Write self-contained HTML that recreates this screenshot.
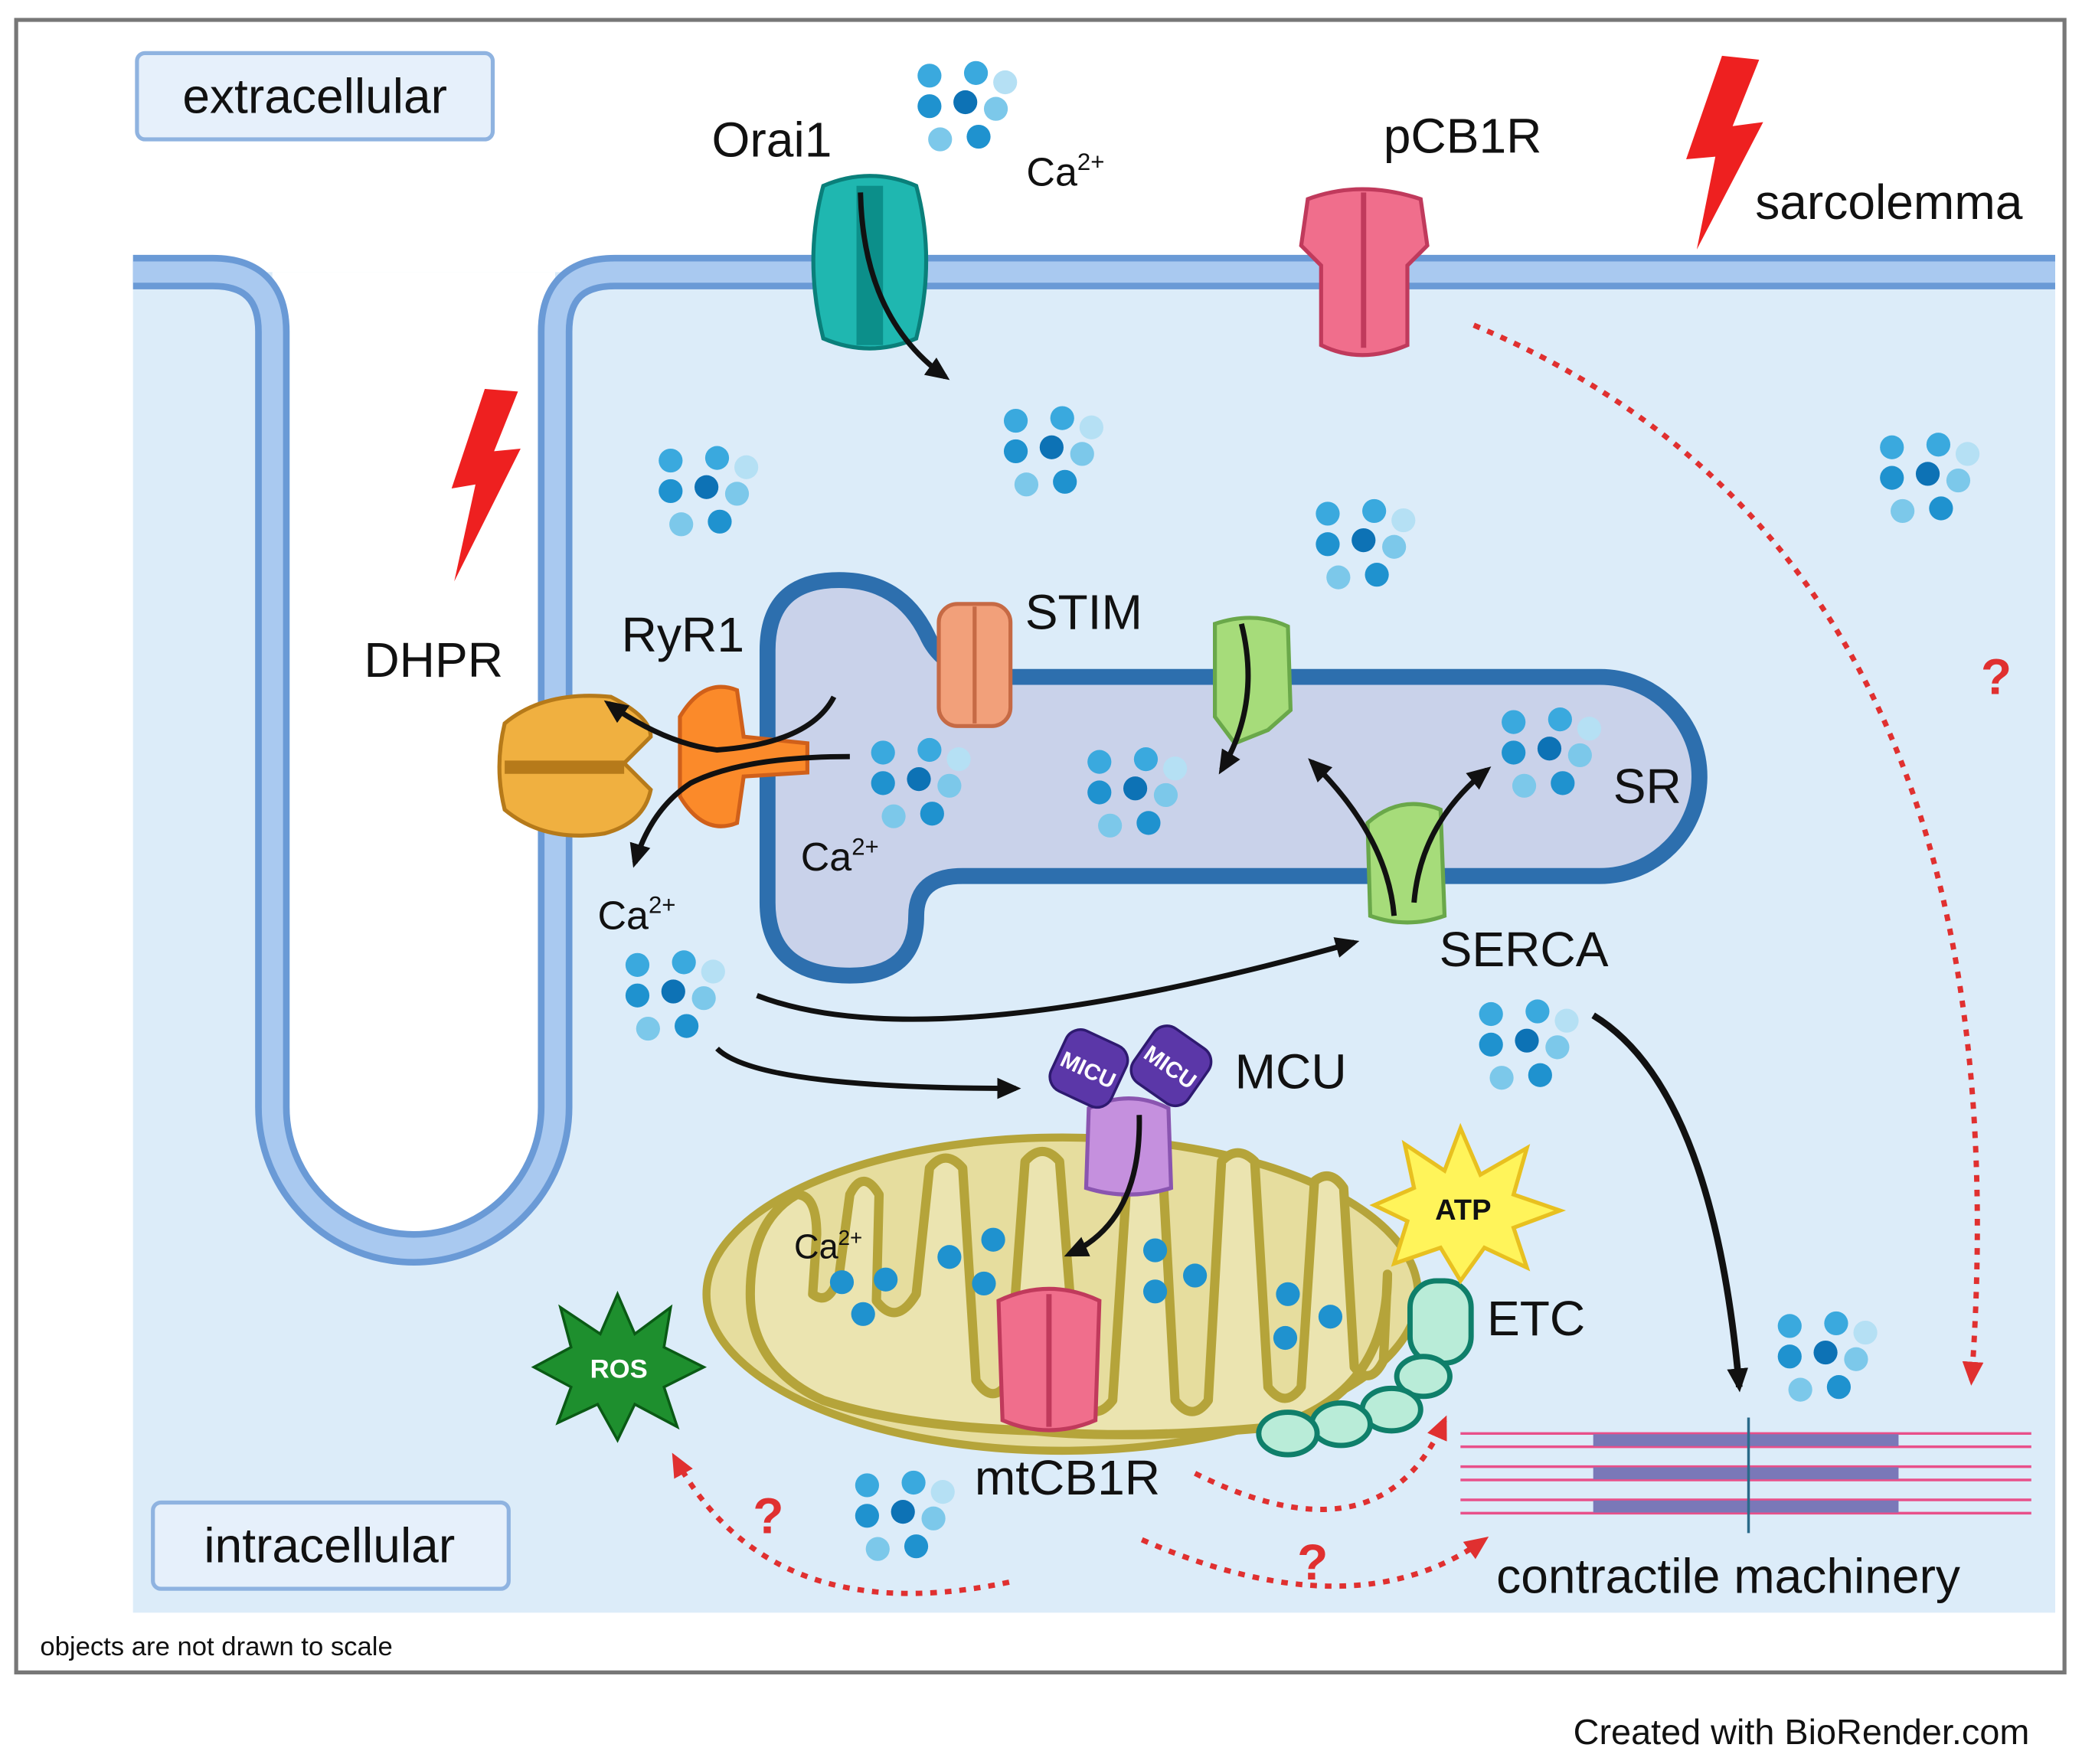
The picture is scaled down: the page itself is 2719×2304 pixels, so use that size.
<!DOCTYPE html>
<html><head><meta charset="utf-8"><style>
html,body{margin:0;padding:0;background:#fff;}
svg{display:block;}
text{font-family:"Liberation Sans",sans-serif;fill:#111;}
</style></head><body>
<svg width="2719" height="2304" viewBox="0 0 1568 1329" xmlns="http://www.w3.org/2000/svg">
<defs>
<g id="ca">
<circle cx="-25" cy="-23" r="9" fill="#3aa9de"/><circle cx="10" cy="-25" r="9" fill="#3aa9de"/><circle cx="32" cy="-18" r="9" fill="#b5e0f4"/>
<circle cx="-25" cy="0" r="9" fill="#1f92cf"/><circle cx="2" cy="-3" r="9" fill="#0d72b5"/><circle cx="25" cy="2" r="9" fill="#7cc8ea"/>
<circle cx="-17" cy="25" r="9" fill="#7cc8ea"/><circle cx="12" cy="23" r="9" fill="#1f92cf"/>
</g>
<marker id="ahb" markerWidth="20" markerHeight="20" refX="14" refY="10" orient="auto" markerUnits="userSpaceOnUse"><path d="M0,2 L18,10 L0,18 Z" fill="#111"/></marker>
<marker id="ahr" markerWidth="20" markerHeight="20" refX="14" refY="10" orient="auto" markerUnits="userSpaceOnUse"><path d="M0,2 L18,10 L0,18 Z" fill="#e03030"/></marker>
</defs>
<rect x="12" y="15" width="1543" height="1245" fill="#fff" stroke="#777" stroke-width="3"/>
<rect x="100" y="205" width="1448" height="1010" fill="#dcecf9"/>
<path d="M205,205 V834 A106.5 106.5 0 0 0 418 834 V205 Z" fill="#fff"/>
<path d="M100,205 H160 Q205,205 205,250 V834 A106.5 106.5 0 0 0 418 834 V250 Q418,205 463,205 H1548" fill="none" stroke="#6a9ad6" stroke-width="26"/>
<path d="M100,205 H160 Q205,205 205,250 V834 A106.5 106.5 0 0 0 418 834 V250 Q418,205 463,205 H1548" fill="none" stroke="#a9c9f0" stroke-width="16"/>
<path d="M578,490 Q578,437 632,437 Q678,437 698,478 Q712,510 760,510 H1205 A75 75 0 0 1 1205 660 H725 Q690,660 690,690 Q690,735 640,735 Q578,735 578,680 Z" fill="#c9d2ea" stroke="#2d6fae" stroke-width="12"/>
<ellipse cx="800" cy="975" rx="268" ry="118" fill="#e6dd9e" stroke="#b5a43a" stroke-width="6"/>
<path d="M565,975 Q565,920 600,900 Q615,900 615,930 L612,975 Q625,985 632,960 L640,900 Q650,880 662,900 L660,980 Q675,1000 690,975 L700,880 Q712,865 725,880 L735,1040 Q748,1060 760,1040 L772,875 Q785,860 798,875 L812,1055 Q825,1072 838,1055 L850,870 Q862,855 875,870 L885,1055 Q898,1072 910,1055 L920,875 Q932,862 945,875 L955,1045 Q968,1062 980,1045 L990,890 Q1002,880 1012,895 L1020,1030 Q1032,1045 1042,1025 L1045,960 Q1045,1050 960,1075 Q850,1085 780,1078 Q680,1075 620,1055 Q565,1030 565,975 Z" fill="#ebe4b0" stroke="#b5a43a" stroke-width="7" stroke-linejoin="round"/>
<use href="#ca" x="725" y="80"/><use href="#ca" x="530" y="370"/><use href="#ca" x="790" y="340"/>
<use href="#ca" x="1025" y="410"/><use href="#ca" x="1450" y="360"/><use href="#ca" x="690" y="590"/>
<use href="#ca" x="853" y="597"/><use href="#ca" x="1165" y="567"/><use href="#ca" x="505" y="750"/>
<use href="#ca" x="1148" y="787"/><use href="#ca" x="1373" y="1022"/><use href="#ca" x="678" y="1142"/>
<g fill="#1f92cf"><circle cx="634" cy="966" r="9"/><circle cx="667" cy="964" r="9"/><circle cx="650" cy="990" r="9"/><circle cx="715" cy="947" r="9"/><circle cx="748" cy="934" r="9"/><circle cx="741" cy="967" r="9"/><circle cx="870" cy="942" r="9"/><circle cx="870" cy="973" r="9"/><circle cx="900" cy="961" r="9"/><circle cx="970" cy="975" r="9"/><circle cx="1002" cy="992" r="9"/><circle cx="968" cy="1008" r="9"/></g>
<g stroke="#e8508a" stroke-width="2" fill="none">
<path d="M1100,1080 H1530 M1100,1090 H1530 M1100,1105 H1530 M1100,1115 H1530 M1100,1130 H1530 M1100,1140 H1530"/>
</g>
<g stroke="#7a78b8" stroke-width="9"><path d="M1200,1085 H1430 M1200,1110 H1430 M1200,1135 H1430"/></g>
<line x1="1317" y1="1068" x2="1317" y2="1155" stroke="#2a6a8a" stroke-width="2"/>
<path d="M620,140 Q655,125 690,140 Q705,195 690,255 Q655,270 620,255 Q605,195 620,140Z" fill="#1fb7b0" stroke="#0a7f7a" stroke-width="3"/>
<rect x="645" y="140" width="20" height="120" fill="#0c8f8a"/>
<path d="M985,150 Q1025,135 1070,150 L1075,185 L1060,200 L1060,260 Q1025,275 995,260 L995,200 L980,185Z" fill="#f06e8c" stroke="#c03a5c" stroke-width="3"/>
<line x1="1027" y1="145" x2="1027" y2="262" stroke="#c03a5c" stroke-width="4"/>
<rect x="707" y="455" width="54" height="92" rx="14" fill="#f2a07a" stroke="#c66a45" stroke-width="3"/>
<line x1="734" y1="457" x2="734" y2="545" stroke="#c66a45" stroke-width="3"/>
<path d="M380,545 Q410,520 460,525 Q490,540 490,555 L470,575 L490,595 Q485,620 455,628 Q410,635 380,610 Q372,578 380,545Z" fill="#f0b040" stroke="#b67a1a" stroke-width="3"/>
<path d="M380,578 H470" stroke="#b67a1a" stroke-width="10"/>
<path d="M512,540 Q530,510 555,520 L560,555 L608,560 L608,582 L560,585 L555,620 Q530,630 512,600 Z" fill="#fb8a2a" stroke="#d0601a" stroke-width="3"/>
<path d="M915,470 Q945,460 970,472 L972,535 L955,550 L930,560 L915,540Z" fill="#a6dc7a" stroke="#6aa84a" stroke-width="3"/>
<path d="M1030,620 Q1055,598 1085,610 L1088,690 Q1060,700 1032,690Z" fill="#a6dc7a" stroke="#6aa84a" stroke-width="3"/>
<path d="M820,835 Q850,820 880,835 L882,895 Q850,905 818,895Z" fill="#c590de" stroke="#8a55b0" stroke-width="3"/>
<g transform="rotate(25 820 805)"><rect x="795" y="780" width="50" height="50" rx="12" fill="#5b37a8" stroke="#2e1a70" stroke-width="2"/><text x="820" y="812" font-size="17" text-anchor="middle" style="fill:#fff" font-weight="bold">MICU</text></g>
<g transform="rotate(35 882 803)"><rect x="857" y="778" width="50" height="50" rx="12" fill="#5b37a8" stroke="#2e1a70" stroke-width="2"/><text x="882" y="810" font-size="17" text-anchor="middle" style="fill:#fff" font-weight="bold">MICU</text></g>
<path d="M752,980 Q790,962 828,980 L825,1070 Q790,1085 755,1070Z" fill="#f06e8c" stroke="#c03a5c" stroke-width="3"/>
<line x1="790" y1="975" x2="790" y2="1075" stroke="#c03a5c" stroke-width="4"/>
<g fill="#b9ecd8" stroke="#0f7f6a" stroke-width="4">
<rect x="1062" y="965" width="46" height="62" rx="20"/><ellipse cx="1072" cy="1037" rx="20" ry="15"/><ellipse cx="1048" cy="1062" rx="22" ry="16"/><ellipse cx="1010" cy="1073" rx="22" ry="16"/><ellipse cx="970" cy="1080" rx="22" ry="16"/></g>
<path d="M1100,850 L1115,885 L1150,865 L1140,900 L1175,912 L1140,925 L1150,955 L1118,940 L1100,965 L1085,940 L1050,952 L1060,920 L1035,908 L1065,895 L1058,862 L1088,882Z" fill="#fff45a" stroke="#e8c020" stroke-width="3"/>
<text x="1102" y="919" font-size="22" font-weight="bold" text-anchor="middle">ATP</text>
<path d="M465,975 L478,1005 L505,985 L500,1015 L530,1030 L500,1045 L510,1075 L478,1058 L465,1085 L450,1058 L420,1072 L430,1045 L402,1030 L430,1015 L422,985 L452,1005Z" fill="#1e8f2e" stroke="#0a5a15" stroke-width="2"/>
<text x="466" y="1038" font-size="20" font-weight="bold" text-anchor="middle" style="fill:#fff">ROS</text>
<path d="M1297,42 L1325,45 L1305,95 L1328,92 L1278,188 L1292,118 L1270,120Z" fill="#ee2020"/>
<path d="M365,293 L390,295 L372,340 L392,338 L342,438 L358,365 L340,368Z" fill="#ee2020"/>
<g fill="none" stroke="#111" stroke-width="4">
<path d="M648,145 Q650,240 712,284" marker-end="url(#ahb)"/>
<path d="M628,525 Q610,560 540,565 Q500,560 458,530" marker-end="url(#ahb)"/>
<path d="M640,570 Q560,570 520,590 Q490,610 478,650" marker-end="url(#ahb)"/>
<path d="M935,470 Q950,530 920,580" marker-end="url(#ahb)"/>
<path d="M1050,690 Q1045,630 988,574" marker-end="url(#ahb)"/>
<path d="M1065,680 Q1070,620 1120,580" marker-end="url(#ahb)"/>
<path d="M570,750 Q700,800 1020,710" marker-end="url(#ahb)"/>
<path d="M540,790 Q570,820 765,820" marker-end="url(#ahb)"/>
<path d="M858,840 Q860,920 805,945" marker-end="url(#ahb)"/>
<path d="M1200,765 Q1290,820 1310,1045" stroke-width="5" marker-end="url(#ahb)"/>
</g>
<g fill="none" stroke="#e03030" stroke-width="4" stroke-dasharray="5,6">
<path d="M1110,245 Q1530,420 1485,1040" marker-end="url(#ahr)"/>
<path d="M900,1110 Q1040,1180 1088,1070" marker-end="url(#ahr)"/>
<path d="M860,1160 Q1020,1230 1118,1160" marker-end="url(#ahr)"/>
<path d="M760,1192 Q580,1230 508,1098" marker-end="url(#ahr)"/>
</g>
<g font-size="38" font-weight="bold"><text x="1492" y="523" style="fill:#e03030">?</text><text x="567" y="1155" style="fill:#e03030">?</text><text x="977" y="1190" style="fill:#e03030">?</text></g>
<rect x="103" y="40" width="268" height="65" rx="6" fill="#e6f0fb" stroke="#8fb3e0" stroke-width="3"/>
<text x="237" y="85" font-size="37" text-anchor="middle">extracellular</text>
<rect x="115" y="1132" width="268" height="65" rx="6" fill="#e6f0fb" stroke="#8fb3e0" stroke-width="3"/>
<text x="248" y="1177" font-size="37" text-anchor="middle">intracellular</text>
<g font-size="37">
<text x="536" y="118">Orai1</text>
<text x="1042" y="115">pCB1R</text>
<text x="1322" y="165">sarcolemma</text>
<text x="274" y="510">DHPR</text>
<text x="468" y="491">RyR1</text>
<text x="772" y="474">STIM</text>
<text x="1215" y="605">SR</text>
<text x="1084" y="728">SERCA</text>
<text x="930" y="820">MCU</text>
<text x="1120" y="1006">ETC</text>
<text x="734" y="1126">mtCB1R</text>
<text x="1127" y="1200">contractile machinery</text>
</g>
<text x="773" y="140" font-size="30">Ca<tspan font-size="18" dy="-12">2+</tspan></text>
<text x="603" y="656" font-size="30">Ca<tspan font-size="18" dy="-12">2+</tspan></text>
<text x="450" y="700" font-size="30">Ca<tspan font-size="18" dy="-12">2+</tspan></text>
<text x="598" y="948" font-size="26">Ca<tspan font-size="16" dy="-10">2+</tspan></text>
<text x="30" y="1247" font-size="20">objects are not drawn to scale</text>
<text x="1185" y="1314" font-size="27">Created with BioRender.com</text>
</svg>
</body></html>
